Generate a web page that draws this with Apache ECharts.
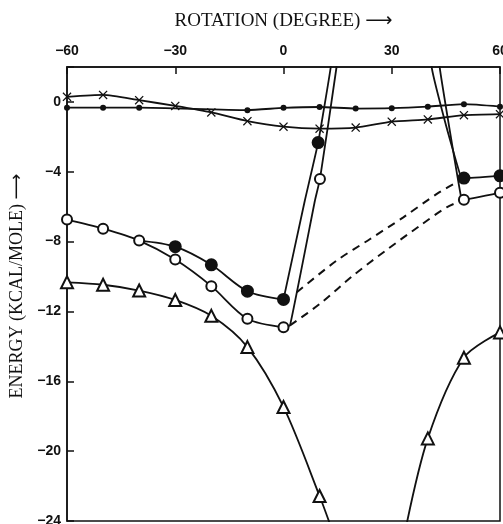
<!DOCTYPE html>
<html>
<head>
<meta charset="utf-8">
<title>Energy vs rotation</title>
<script src="https://cdn.jsdelivr.net/npm/echarts@6/dist/echarts.min.js"></script>
<style>
  html, body { margin: 0; padding: 0; background: #fff; }
  #chart { width: 503px; height: 524px; }
</style>
</head>
<body>
<div id="chart"></div>
<script>
// rotation in degrees (x), energy in kcal/mole (y)
const xMin = -60, xMax = 60, xStep = 30
const yMin = -24, yMax = 2, yStep = 4

// curves (the ends past the frame get clipped)
const smallDotCurve = [[-60, -0.33], [-50, -0.33], [-40, -0.33], [-10, -0.47], [0, -0.34], [10, -0.29], [20, -0.38], [30, -0.36], [40, -0.27], [50, -0.13], [60, -0.27]]
const crossCurve = [[-60, 0.29], [-50, 0.4], [-40, 0.1], [-30, -0.23], [-20, -0.6], [-10, -1.1], [0, -1.42], [10, -1.53], [20, -1.47], [30, -1.13], [40, -1.0], [50, -0.76], [60, -0.7]]
const openLeft = [[-60, -6.74], [-50, -7.26], [-40, -7.94], [-30, -9.03], [-20, -10.55], [-10, -12.42], [0, -12.9]]
const filledLeft = [[-40, -7.94], [-30, -8.29], [-20, -9.33], [-10, -10.84], [0, -11.31]]
const filledRise = [[0, -11.31], [5.9, -5.66], [9.6, -2.33], [13.1, 2], [13.7, 4]]
const openRise = [[0, -12.9], [1.8, -12.8], [8.7, -5.66], [10.1, -4.42], [14.7, 2], [15.2, 4]]
const filledFall = [[40.7, 4], [41.1, 1.94], [45.2, -1.47], [48.9, -4.13], [50, -4.36], [60, -4.23]]
const openFall = [[42.9, 4], [43.3, 1.96], [46.1, -1.66], [49.2, -5.43], [50, -5.6], [60, -5.2]]
const filledDashed = [[3.7, -10.9], [14.7, -9.09], [24, -7.85], [33.2, -6.61], [42.5, -5.27], [50, -4.36]]
const openDashed = [[1.8, -12.8], [10.1, -11.56], [19.3, -9.94], [28.6, -8.47], [37.8, -7.09], [45.2, -6.04], [50, -5.6]]
const triLeft = [[-60, -10.33], [-50, -10.47], [-40, -10.8], [-30, -11.34], [-20, -12.25], [-10, -14.04], [0, -17.47], [10, -22.57], [14.3, -25]]
const triRight = [[33.3, -25], [40, -19.27], [50, -14.65], [60, -13.2]]

// plotted points
const filledDots = [[-30, -8.29], [-20, -9.33], [-10, -10.84], [0, -11.31], [9.6, -2.33], [50, -4.36], [60, -4.23]]
const openDots = [[-60, -6.74], [-50, -7.26], [-40, -7.94], [-30, -9.03], [-20, -10.55], [-10, -12.42], [0, -12.9], [10.1, -4.42], [50, -5.6], [60, -5.2]]
const triangles = [[-60, -10.33], [-50, -10.47], [-40, -10.8], [-30, -11.34], [-20, -12.25], [-10, -14.04], [0, -17.47], [10, -22.57], [40, -19.27], [50, -14.65], [60, -13.2]]

const INK = '#111'
const crossPath = 'path://M0,1L1,0L5,4L9,0L10,1L6,5L10,9L9,10L5,6L1,10L0,9L4,5Z'
const minus = v => (v < 0 ? '\u2212' + Math.abs(v) : String(v))

function curve (data, opts) {
  return Object.assign({
    type: 'line',
    data: data,
    showSymbol: false,
    smooth: 0.3,
    silent: true,
    z: 2,
    lineStyle: { color: INK, width: 1.8 }
  }, opts || {})
}

function dots (data, symbol, size, fill) {
  return {
    type: 'scatter',
    data: data,
    symbol: symbol,
    symbolSize: size,
    silent: true,
    z: 4,
    itemStyle: { color: fill, borderColor: INK, borderWidth: 2, opacity: 1 }
  }
}

const chart = echarts.init(document.getElementById('chart'))
chart.setOption({
  animation: false,
  backgroundColor: '#fff',
  grid: {
    left: 67, right: 3, top: 67, bottom: 3,
    outerBoundsMode: 'none',
    show: true, borderColor: INK, borderWidth: 1.5
  },
  xAxis: {
    type: 'value',
    position: 'top',
    min: xMin, max: xMax, interval: xStep,
    name: 'ROTATION (DEGREE) \u27f6',
    nameLocation: 'middle',
    nameGap: 36,
    nameTextStyle: { fontFamily: '"Liberation Serif", "DejaVu Sans"', fontSize: 19, color: INK },
    axisLine: { onZero: false, lineStyle: { color: INK, width: 1.5 } },
    axisTick: { inside: true, length: 7, lineStyle: { color: INK, width: 1.5 } },
    axisLabel: {
      formatter: minus, margin: 9, color: INK,
      fontFamily: 'Liberation Sans', fontWeight: 'bold', fontSize: 14
    },
    splitLine: { show: false }
  },
  yAxis: {
    type: 'value',
    min: yMin, max: yMax, interval: yStep,
    axisLine: { show: true, onZero: false, lineStyle: { color: INK, width: 1.5 } },
    axisTick: { show: true, inside: true, length: 7, lineStyle: { color: INK, width: 1.5 } },
    axisLabel: {
      formatter: v => (v > 0 ? '' : minus(v)), margin: 6, color: INK,
      fontFamily: 'Liberation Sans', fontWeight: 'bold', fontSize: 14
    },
    splitLine: { show: false }
  },
  graphic: [{
    type: 'text',
    x: 17, y: 286,
    rotation: Math.PI / 2,
    style: {
      text: 'ENERGY (KCAL/MOLE) \u27f6',
      fill: INK,
      font: '18px "Liberation Serif", "DejaVu Sans"',
      textAlign: 'center',
      textVerticalAlign: 'middle'
    }
  }],
  series: [
    curve(smallDotCurve, { smooth: 0.2, showSymbol: true, symbol: 'circle', symbolSize: 6, itemStyle: { color: INK } }),
    curve(crossCurve, { smooth: 0.2, showSymbol: true, symbol: crossPath, symbolSize: 9, itemStyle: { color: INK } }),
    curve(openLeft),
    curve(filledLeft),
    curve(filledRise, { smooth: 0.1 }),
    curve(openRise, { smooth: 0.1 }),
    curve(filledFall, { smooth: 0.1 }),
    curve(openFall, { smooth: 0.1 }),
    curve(filledDashed, { lineStyle: { color: INK, width: 2, type: [8, 6] } }),
    curve(openDashed, { lineStyle: { color: INK, width: 2, type: [8, 6] } }),
    curve(triLeft),
    curve(triRight),
    dots(filledDots, 'circle', 11, INK),
    dots(openDots, 'circle', 10, '#fff'),
    dots(triangles, 'triangle', 12, '#fff')
  ]
})
</script>
</body>
</html>
